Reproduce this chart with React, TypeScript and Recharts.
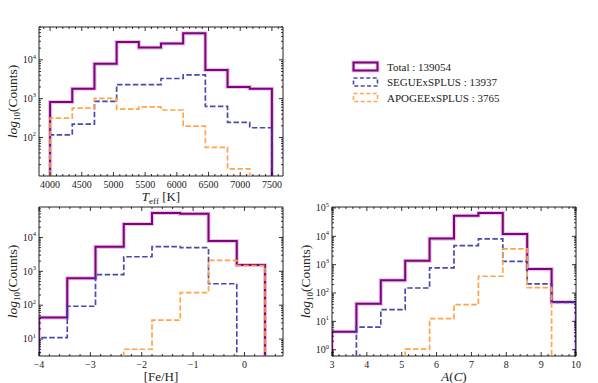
import React from 'react';
import { LineChart, Line, XAxis, YAxis, ReferenceArea } from 'recharts';

// --- data (counts per bin) ---
const teffEdges = [4000, 4350, 4700, 5050, 5400, 5750, 6100, 6450, 6800, 7150, 7500];
const teffTotal = [820, 1800, 7900, 28600, 20700, 26300, 48000, 5500, 2000, 1800];
const teffSegue = [117, 220, 850, 2300, 2300, 3300, 4100, 630, 245, 178];
const teffApogee = [316, 570, 1020, 540, 615, 510, 196, 56, 15.5, 0];

const fehEdges = [-4, -3.45, -2.9, -2.35, -1.8, -1.25, -0.7, -0.15, 0.4];
const fehTotal = [43, 630, 5300, 25000, 53000, 50000, 7800, 1540];
const fehSegue = [11, 93, 800, 2700, 5400, 5000, 430, 0];
const fehApogee = [0, 0, 0, 5, 36, 235, 2100, 1480];

const acEdges = [3, 3.7, 4.4, 5.1, 5.8, 6.5, 7.2, 7.9, 8.6, 9.3, 10];
const acTotal = [4.3, 42, 280, 1360, 8300, 53000, 66000, 12000, 700, 48];
const acSegue = [0, 6.3, 26, 150, 770, 4700, 8100, 1300, 210, 47];
const acApogee = [0, 0, 0, 1.05, 12.4, 39, 390, 3600, 155, 0];

const teffTicks = [4000, 4500, 5000, 5500, 6000, 6500, 7000, 7500];
const fehTicks = [-4, -3, -2, -1, 0];
const acTicks = [3, 4, 5, 6, 7, 8, 9, 10];

const legendLabels = ['Total : 139054', 'SEGUExSPLUS : 13937', 'APOGEExSPLUS : 3765'];

const PURPLE = '#800080';
const BLUE = '#3a3aa8';
const ORANGE = '#ffa043';
const FONT = '"Liberation Serif", "DejaVu Serif", serif';
const DASH = '5.5 2.4';

// step-histogram rows: rise from floor at first edge, drop to floor at last edge
function buildRows(edges: number[], total: number[], segue: number[], apogee: number[], floor: number) {
  const v = (c: number) => (c > 0 ? c : floor);
  const n = total.length;
  const rows = [{ x: edges[0], total: floor, segue: floor, apogee: floor }];
  for (let i = 0; i < n; i++) {
    rows.push({ x: edges[i], total: v(total[i]), segue: v(segue[i]), apogee: v(apogee[i]) });
  }
  rows.push({ x: edges[n], total: v(total[n - 1]), segue: v(segue[n - 1]), apogee: v(apogee[n - 1]) });
  rows.push({ x: edges[n], total: floor, segue: floor, apogee: floor });
  return rows;
}

function range(a: number, b: number, step: number) {
  const out: number[] = [];
  for (let k = 0; a + k * step <= b + 1e-9; k++) out.push(+(a + k * step).toFixed(6));
  return out;
}

function logTicks(lo: number, hi: number) {
  const out: number[] = [];
  for (let e = Math.floor(Math.log10(lo)); e <= Math.ceil(Math.log10(hi)); e++) {
    for (let m = 1; m <= 9; m++) {
      const t = m * Math.pow(10, e);
      if (t >= lo && t <= hi) out.push(t);
    }
  }
  return out;
}

const isMajor = (v: number, majors: number[]) => majors.some((m) => Math.abs(m - v) < 1e-6 * Math.max(1, Math.abs(m)));

interface PanelProps {
  left: number;
  top: number;
  pw: number;
  ph: number;
  rows: any[];
  xDomain: [number, number];
  xMajors: number[];
  xMinorStep: number;
  yDomain: [number, number];
  xLabel: React.ReactNode;
  fmtX: (v: number) => string;
}

const Panel: React.FC<PanelProps> = ({ left, top, pw, ph, rows, xDomain, xMajors, xMinorStep, yDomain, xLabel, fmtX }) => {
  const YW = 40;
  const XH = 30;
  const xTicks = range(Math.ceil(xDomain[0] / xMinorStep) * xMinorStep, xDomain[1], xMinorStep);
  const yTicks = logTicks(yDomain[0], yDomain[1]);
  const yMajors = yTicks.filter((t) => Math.abs(Math.log10(t) - Math.round(Math.log10(t))) < 1e-9);

  const XTick = (p: any) => {
    const { x, y, payload } = p;
    const major = isMajor(payload.value, xMajors);
    const len = major ? 4 : 2;
    return (
      <g>
        <line x1={x} x2={x} y1={y} y2={y - len} stroke="#000" strokeWidth={0.8} />
        <line x1={x} x2={x} y1={y - ph} y2={y - ph + len} stroke="#000" strokeWidth={0.8} />
        {major && (
          <text x={x} y={y + 11.5} textAnchor="middle" fontSize={10} fontFamily={FONT} fill="#222">
            {fmtX(payload.value)}
          </text>
        )}
      </g>
    );
  };

  const YTick = (p: any) => {
    const { x, y, payload } = p;
    const major = isMajor(payload.value, yMajors);
    const len = major ? 4 : 2;
    const e = Math.round(Math.log10(payload.value));
    return (
      <g>
        <line x1={x} x2={x + len} y1={y} y2={y} stroke="#000" strokeWidth={0.8} />
        <line x1={x + pw} x2={x + pw - len} y1={y} y2={y} stroke="#000" strokeWidth={0.8} />
        {major && (
          <text x={x - 3} y={y + 3.3} textAnchor="end" fontSize={10} fontFamily={FONT} fill="#222">
            <tspan>10</tspan>
            <tspan dy={-4.5} fontSize={6.5}>{e}</tspan>
          </text>
        )}
      </g>
    );
  };

  return (
    <div style={{ position: 'absolute', left: left - YW, top: top - 5 }}>
      <LineChart
        width={pw + YW + 5}
        height={ph + 5 + XH}
        data={rows}
        margin={{ top: 5, right: 5, left: 0, bottom: 0 }}
      >
        <XAxis
          dataKey="x"
          type="number"
          domain={xDomain}
          allowDataOverflow
          ticks={xTicks}
          interval={0}
          tickSize={0}
          tickMargin={0}
          tickLine={false}
          axisLine={false}
          tick={XTick}
          height={XH}
          label={{
            content: (lp: any) => {
              const vb = lp.viewBox;
              return (
                <text x={vb.x + vb.width / 2} y={vb.y + 25} textAnchor="middle" fontSize={13} fontFamily={FONT} fill="#222">
                  {xLabel}
                </text>
              );
            },
          }}
        />
        <YAxis
          scale="log"
          type="number"
          domain={yDomain}
          allowDataOverflow
          ticks={yTicks}
          interval={0}
          tickSize={0}
          tickMargin={0}
          tickLine={false}
          axisLine={false}
          tick={YTick}
          width={YW}
          label={{
            content: (lp: any) => {
              const vb = lp.viewBox;
              const cx = vb.x + vb.width - 26;
              const cy = vb.y + vb.height / 2;
              return (
                <text x={cx} y={cy} textAnchor="middle" fontSize={13.5} fontFamily={FONT} fill="#222" transform={`rotate(-90 ${cx} ${cy})`} dy={4}>
                  <tspan fontStyle="italic">log</tspan>
                  <tspan dy={3} fontSize={9}>10</tspan>
                  <tspan dy={-3}>(Counts)</tspan>
                </text>
              );
            },
          }}
        />
        <Line type="stepAfter" dataKey="total" stroke={PURPLE} strokeOpacity={0.22} strokeWidth={4.2} dot={false} activeDot={false} isAnimationActive={false} />
        <Line type="stepAfter" dataKey="total" stroke={PURPLE} strokeWidth={2} dot={false} activeDot={false} isAnimationActive={false} />
        <Line type="stepAfter" dataKey="segue" stroke={BLUE} strokeOpacity={0.92} strokeWidth={1.7} strokeDasharray={DASH} dot={false} activeDot={false} isAnimationActive={false} />
        <Line type="stepAfter" dataKey="apogee" stroke={ORANGE} strokeOpacity={0.95} strokeWidth={1.7} strokeDasharray={DASH} dot={false} activeDot={false} isAnimationActive={false} />
        <ReferenceArea x1={xDomain[0]} x2={xDomain[1]} y1={yDomain[0]} y2={yDomain[1]} fill="none" stroke="#222" strokeWidth={1} fillOpacity={0} />
      </LineChart>
    </div>
  );
};

const LegendBox: React.FC = () => {
  const colors = [PURPLE, BLUE, ORANGE];
  const rowsY = [62.5, 78, 93.5];
  return (
    <svg width={598} height={383} style={{ position: 'absolute', left: 0, top: 0, pointerEvents: 'none' }}>
      {legendLabels.map((lab, i) => (
        <g key={lab}>
          {i === 0 && <rect x={353.5} y={rowsY[i]} width={24} height={8} fill="none" stroke={PURPLE} strokeOpacity={0.22} strokeWidth={4} />}
          <rect
            x={353.5}
            y={rowsY[i]}
            width={24}
            height={8}
            fill="none"
            stroke={colors[i]}
            strokeWidth={i === 0 ? 2 : 1.6}
            strokeDasharray={i === 0 ? undefined : '4 2.4'}
            strokeOpacity={i === 0 ? 1 : 0.92}
          />
          <text x={387} y={rowsY[i] + 8} fontSize={11} fontFamily={FONT} fill="#222">
            {lab}
          </text>
        </g>
      ))}
    </svg>
  );
};

export default function App() {
  const teffRows = buildRows(teffEdges, teffTotal, teffSegue, teffApogee, 1);
  const fehRows = buildRows(fehEdges, fehTotal, fehSegue, fehApogee, 0.3);
  const acRows = buildRows(acEdges, acTotal, acSegue, acApogee, 0.05);
  const minus = (v: number) => (v < 0 ? '\u2212' + Math.abs(v) : String(v));

  return (
    <div style={{ position: 'absolute', left: 0, top: 0, width: 598, height: 383, background: '#fff' }}>
      <Panel
        left={39}
        top={27}
        pw={244}
        ph={149}
        rows={teffRows}
        xDomain={[3825, 7675]}
        xMajors={teffTicks}
        xMinorStep={100}
        yDomain={[10.2, 70000]}
        fmtX={(v) => String(v)}
        xLabel={
          <>
            <tspan fontStyle="italic">T</tspan>
            <tspan dy={3} fontSize={9}>eff</tspan>
            <tspan dy={-3}> [K]</tspan>
          </>
        }
      />
      <Panel
        left={39}
        top={207}
        pw={244}
        ph={149}
        rows={fehRows}
        xDomain={[-4, 0.75]}
        xMajors={fehTicks}
        xMinorStep={0.2}
        yDomain={[3.16, 79400]}
        fmtX={minus}
        xLabel="[Fe/H]"
      />
      <Panel
        left={332}
        top={207}
        pw={244}
        ph={149}
        rows={acRows}
        xDomain={[3, 10]}
        xMajors={acTicks}
        xMinorStep={0.2}
        yDomain={[0.6, 108000]}
        fmtX={(v) => String(v)}
        xLabel={
          <>
            <tspan fontStyle="italic">A</tspan>
            <tspan>(</tspan>
            <tspan fontStyle="italic">C</tspan>
            <tspan>)</tspan>
          </>
        }
      />
      <LegendBox />
    </div>
  );
}
